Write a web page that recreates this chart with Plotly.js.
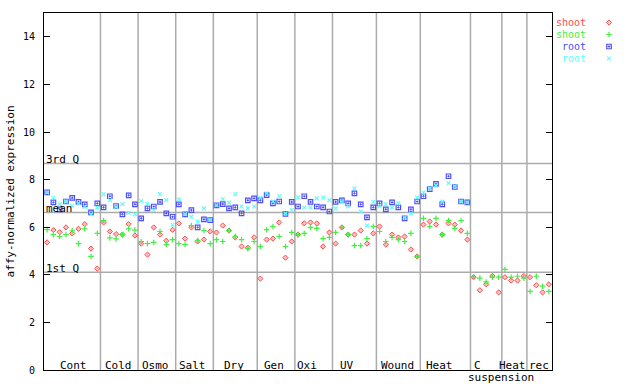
<!DOCTYPE html>
<html>
<head>
<meta charset="utf-8">
<script src="https://cdn.plot.ly/plotly-3.0.1.min.js"></script>
<style>html,body{margin:0;padding:0;background:#fff;}#chart{width:640px;height:384px;}</style>
</head>
<body>
<div id="chart"></div>
<script>
// ---- data ----
const groupNames = ['Cont','Cold','Osmo','Salt','Dry','Gen','Oxi','UV','Wound','Heat','C','Heat','rec'];
const groupSizes = [9,6,6,6,7,6,6,7,7,8,5,4,4];
const subLabel = 'suspension';

const shootRep1 = [
  5.36,5.88,5.79,5.99,5.74,5.93,6.13,5.10,4.26,
  6.20,5.82,5.71,5.69,6.13,5.65,
  5.31,4.85,5.99,5.69,5.43,5.89,
  6.16,5.52,5.99,5.40,5.48,5.82,
  5.78,6.07,5.86,5.57,5.19,5.14,5.57,
  3.84,5.48,5.52,6.20,4.72,5.40,
  5.69,6.16,6.20,6.16,5.19,5.78,
  5.31,5.99,5.69,5.69,5.86,5.31,5.74,
  6.03,5.27,5.69,5.57,5.61,5.06,4.77,
  6.11,6.24,6.11,5.69,6.16,6.11,5.86,5.48,
  3.90,3.35,3.60,3.95,3.26,
  3.90,3.76,3.76,3.95,
  3.90,3.56,3.26,3.60
];
const shootRep2 = [
  5.90,5.69,5.61,5.69,5.85,5.31,5.93,4.77,5.74,
  6.28,5.55,5.51,5.69,5.93,5.88,
  5.40,5.31,5.36,5.82,5.27,5.48,
  5.31,5.27,6.07,5.44,5.86,5.31,
  5.48,5.40,5.86,5.61,5.48,5.10,5.40,
  5.19,5.90,6.03,5.61,5.19,5.78,
  5.69,5.74,5.99,5.95,5.52,5.57,
  5.78,5.99,5.69,5.23,5.23,5.52,6.03,
  5.82,5.40,5.57,5.48,5.40,5.74,4.77,
  6.37,6.03,6.37,5.69,6.28,5.95,6.28,5.74,
  3.90,3.86,3.70,3.90,3.90,
  4.23,3.90,3.94,3.86,
  3.30,3.94,3.52,3.30
];
const rootRep1 = [
  7.46,7.04,6.75,7.08,7.23,7.06,6.96,6.62,7.00,
  6.83,7.30,6.89,6.54,7.34,6.96,
  6.37,6.79,6.87,7.06,6.58,6.44,
  6.96,6.54,6.72,5.99,6.33,6.30,
  6.92,6.97,6.79,6.83,6.58,7.13,7.21,
  7.13,7.35,7.00,7.08,6.56,7.06,
  6.87,7.30,7.06,6.87,6.83,6.66,
  7.06,7.13,7.00,7.42,6.96,6.41,6.83,
  7.00,6.75,7.04,6.83,6.37,6.75,7.08,
  7.30,7.60,7.82,6.96,8.14,7.69,7.08,7.04
];
const rootRep2 = [
  7.46,7.23,6.96,7.08,6.90,7.00,6.85,6.55,6.83,
  7.38,7.13,6.85,6.97,6.61,6.55,
  7.10,6.97,6.71,7.39,7.14,6.10,
  7.17,6.55,6.44,6.24,6.79,6.30,
  6.92,7.18,7.04,7.39,6.87,6.79,6.87,
  7.25,7.42,7.08,7.30,6.58,6.71,
  7.25,6.83,6.83,7.21,7.25,7.13,
  6.79,7.08,6.87,7.63,6.66,6.07,7.06,
  6.87,6.96,6.83,7.00,6.41,6.58,7.25,
  7.46,7.63,7.75,7.08,7.86,7.72,7.08,7.04
];
const seriesNames = ['shoot','shoot','root','root'];
const refLabels = ['3rd Q','mean','1st Q'];
const refValues = [8.68, 6.62, 4.11];
const yTicks = [0,2,4,6,8,10,12,14];

// ---- layout constants ----
const FONT = 'DejaVu Sans Mono, Liberation Mono, monospace';
const colors = ['#ff4c4c','#44ee44','#4c4cff','#55ffff'];
const fills  = ['rgba(255,76,76,0.35)','#44ee44','#4c4cff','#55ffff'];
const symbols = ['diamond','cross-thin-open','square-open-dot','x-thin-open'];
const msizes = [4,4,4.5,3.8];
const mlw = [1,1.2,1.2,1.1];
// label centres (in sample-index units)
const labelPos = [5.2,12.3,18.2,24.2,30.8,37.2,42.4,48.8,56.9,63.6,69.6,75.2,79.45];
const subLabelPos = 73.4;

const W = 640, H = 384, L = 44, R = 10, T = 13, B = 14;
const plotW = W - L - R;
const mainRight = (552 - L) / plotW;

const allSeries = [shootRep1, shootRep2, rootRep1, rootRep2];
const mk = k => ({symbol: symbols[k], size: msizes[k], color: fills[k], line: {color: colors[k], width: mlw[k]}});
const traces = allSeries.map((ys, k) => ({
  type: 'scatter', mode: 'markers', name: seriesNames[k],
  x: ys.map((_, i) => i + 1), y: ys,
  xaxis: 'x', yaxis: 'y', showlegend: false, cliponaxis: false,
  marker: mk(k)
}));
// legend keys on their own little axes
seriesNames.forEach((n, k) => {
  traces.push({
    type: 'scatter', mode: 'markers', name: n, x: [0], y: [k],
    xaxis: 'x2', yaxis: 'y2', showlegend: false, hoverinfo: 'skip',
    marker: mk(k)
  });
});

const total = groupSizes.reduce((a, b) => a + b, 0);
const shapes = [];
let cum = 0;
groupSizes.forEach((s, gi) => {
  cum += s;
  if (gi < groupSizes.length - 1) {
    shapes.push({type: 'line', xref: 'x', yref: 'paper', x0: cum + 0.5, x1: cum + 0.5, y0: 0, y1: 1,
      line: {color: '#ababab', width: 1.5}, layer: 'below'});
  }
});
refValues.forEach(v => {
  shapes.push({type: 'line', xref: 'paper', yref: 'y', x0: 0, x1: mainRight, y0: v, y1: v,
    line: {color: '#ababab', width: 1.5}, layer: 'below'});
});

const annotations = [];
groupNames.forEach((g, gi) => {
  annotations.push({xref: 'x', yref: 'paper', x: labelPos[gi], y: 0, yanchor: 'middle', yshift: 5,
    text: g, showarrow: false, font: {family: FONT, size: 11, color: '#000'}});
});
annotations.push({xref: 'x', yref: 'paper', x: subLabelPos, y: 0, yanchor: 'middle', yshift: -7,
  text: subLabel, showarrow: false, font: {family: FONT, size: 11, color: '#000'}});
refLabels.forEach((t, i) => {
  annotations.push({xref: 'paper', yref: 'y', x: 0, xanchor: 'left', y: refValues[i], yanchor: 'middle', yshift: 4,
    text: t, showarrow: false, font: {family: FONT, size: 11, color: '#000'}});
});
seriesNames.forEach((n, k) => {
  annotations.push({xref: 'x2', yref: 'y2', x: 0, y: k, xanchor: 'right', yanchor: 'middle', xshift: -22,
    text: n, showarrow: false, borderpad: 0, font: {family: FONT, size: 10, color: colors[k]}});
});

// legend rows: 12 px apart, starting near the top of the plot
const rowTop = 16.5, rowBot = 64.5;
const y2top = (370 - rowTop) / (H - T - B), y2bot = (370 - rowBot) / (H - T - B);
const layout = {
  width: W, height: H,
  margin: {l: L, r: R, t: T, b: B, pad: 0},
  paper_bgcolor: '#fff', plot_bgcolor: '#fff',
  showlegend: false,
  xaxis: {domain: [0, mainRight], range: [0.5, total + 0.5], showticklabels: false, ticks: '',
    showgrid: false, zeroline: false, showline: true, mirror: true, linecolor: '#000', linewidth: 1, fixedrange: true},
  yaxis: {domain: [0, 1], range: [0, 15], tickvals: yTicks, ticktext: yTicks.map(String), ticks: 'inside', ticklen: 6,
    tickcolor: '#000', tickwidth: 1, mirror: 'ticks', showline: true, linecolor: '#000', linewidth: 1,
    showgrid: false, zeroline: false, ticklabelstandoff: 6,
    tickfont: {family: FONT, size: 10, color: '#000'},
    title: {text: 'affy-normalized expression', standoff: 6, font: {family: FONT, size: 11, color: '#000'}}},
  xaxis2: {domain: [(600 - L) / plotW, (618 - L) / plotW], range: [-1, 1], anchor: 'y2', visible: false, fixedrange: true},
  yaxis2: {domain: [y2bot, y2top], range: [3.5, -0.5], anchor: 'x2', visible: false, fixedrange: true},
  shapes: shapes,
  annotations: annotations
};

Plotly.newPlot('chart', traces, layout, {displayModeBar: false, staticPlot: true});
</script>
</body>
</html>
